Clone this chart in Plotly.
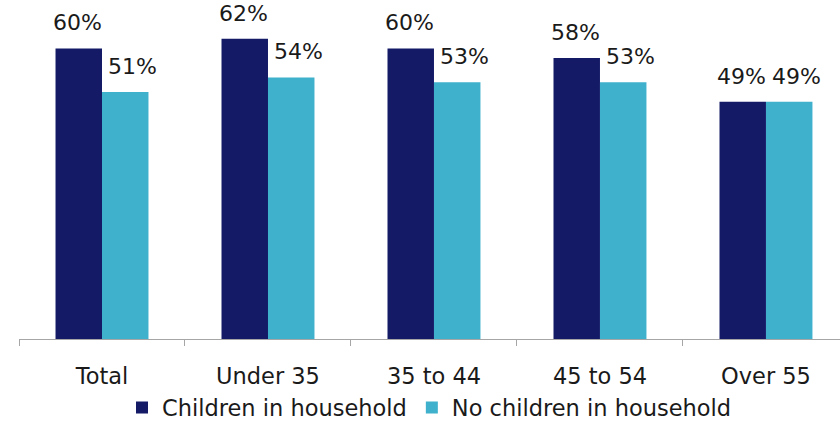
import plotly.graph_objects as go

categories = ["Total", "Under 35", "35 to 44", "45 to 54", "Over 55"]
children = [60, 62, 60, 58, 49]
no_children = [51, 54, 53, 53, 49]
series_names = ["Children in household", "No children in household"]

NAVY = "#141A66"
TEAL = "#3FB1CC"
FONT = "DejaVu Sans"
TEXT = "#1A1A1A"
SIZE = 22.5
LABEL_SIZE = 22

fig = go.Figure()
fig.add_trace(go.Bar(x=categories, y=children, name=series_names[0],
                     marker=dict(color=NAVY, line=dict(width=0))))
fig.add_trace(go.Bar(x=categories, y=no_children, name=series_names[1],
                     marker=dict(color=TEAL, line=dict(width=0))))

# value labels above each bar (bars in a group sit at index -/+ 0.14)
annotations = []
for i, (a, b) in enumerate(zip(children, no_children)):
    annotations.append(dict(x=i - 0.14, y=a, xref="x", yref="y", text=f"{a}%",
                            showarrow=False, yanchor="bottom", yshift=11, xshift=-1,
                            font=dict(family=FONT, size=LABEL_SIZE, color=TEXT)))
    annotations.append(dict(x=i + 0.14, y=b, xref="x", yref="y", text=f"{b}%",
                            showarrow=False, yanchor="bottom", yshift=11, xshift=7,
                            font=dict(family=FONT, size=LABEL_SIZE, color=TEXT)))

fig.update_layout(
    width=840, height=421,
    margin=dict(l=19, r=0, t=0, b=82, autoexpand=False),
    paper_bgcolor="white", plot_bgcolor="white",
    barmode="group", bargap=0.44, bargroupgap=0,
    font=dict(family=FONT, size=SIZE, color=TEXT),
    showlegend=True,
    legend=dict(orientation="h", x=0.5, xanchor="center", y=-0.2035, yanchor="middle",
                font=dict(family=FONT, size=SIZE, color=TEXT),
                bgcolor="rgba(0,0,0,0)", itemwidth=30),
    annotations=annotations,
)
fig.update_xaxes(
    type="category", range=[-0.5, 4.446], automargin=False,
    showline=True, linecolor="#A6A6A6", linewidth=1,
    ticks="outside", tickson="boundaries", ticklen=6, tickcolor="#A6A6A6",
    showgrid=False, zeroline=False, ticklabelstandoff=17,
    tickfont=dict(family=FONT, size=SIZE, color=TEXT),
)
fig.update_yaxes(range=[0, 70], visible=False, showgrid=False, zeroline=False)

fig.write_html("out.html")
